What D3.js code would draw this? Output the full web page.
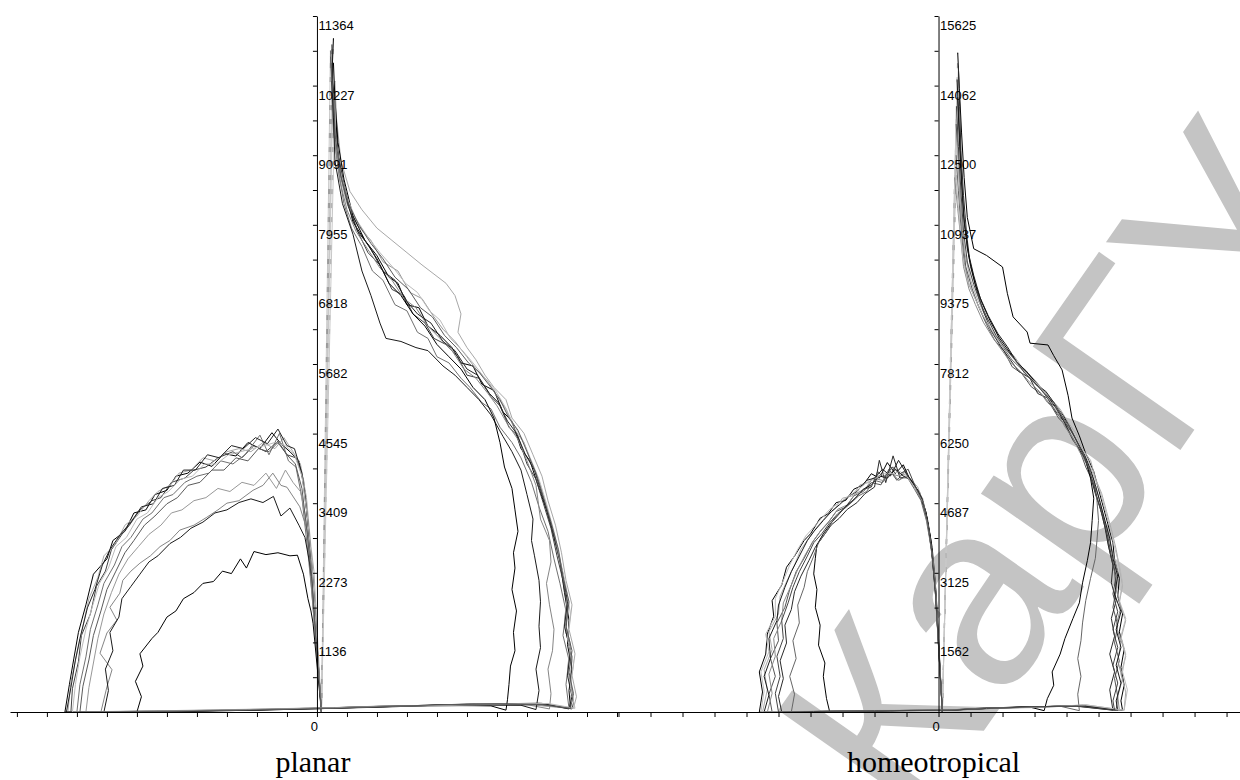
<!DOCTYPE html>
<html>
<head>
<meta charset="utf-8">
<script src="https://cdn.jsdelivr.net/npm/d3@7"></script>
<style>
  body { margin: 0; background: #fff; }
  svg { display: block; }
</style>
</head>
<body>
<div id="chart"></div>
<script>
// ---- data: x in tick units, y in counts ----
const planarMax = 11364;
const planarTickLabels = ["1136", "2273", "3409", "4545", "5682", "6818", "7955", "9091", "10227", "11364"];
const planarColors = ["#000000", "#404040", "#a8a8a8", "#707070", "#989898", "#858585", "#1a1a1a", "#000000", "#222222", "#bbbbbb", "#5a5a5a"];

// left lobe of each loop, from the baseline up and over to x = 0
const planarLeft = [
  [[-8.4,0],[-8.25,450],[-8.1,880],[-7.95,1300],[-7.7,1750],[-7.45,2250],[-7.0,2500],[-6.8,2800],[-6.4,2950],[-6.1,3250],[-5.7,3300],[-5.4,3550],[-5.0,3620],[-4.7,3850],[-4.3,3900],[-3.9,4080],[-3.5,4010],[-3.1,4220],[-2.7,4180],[-2.3,4400],[-1.9,4300],[-1.5,4560],[-1.2,4380],[-0.9,4250],[-0.6,4100],[-0.4,3600],[-0.25,2800],[-0.12,2000],[0.15,0]],
  [[-8.2,0],[-8.15,380],[-7.95,820],[-7.85,1250],[-7.55,1600],[-7.35,2050],[-7.05,2300],[-6.85,2650],[-6.5,2900],[-6.25,3050],[-5.9,3300],[-5.5,3450],[-5.2,3500],[-4.85,3750],[-4.4,3820],[-4.1,3950],[-3.7,4000],[-3.3,4150],[-2.8,4250],[-2.5,4150],[-2.1,4350],[-1.7,4250],[-1.3,4420],[-1.0,4200],[-0.7,4150],[-0.45,3800],[-0.28,3000],[-0.15,2250],[0.15,0]],
  [[-8.3,0],[-8.2,500],[-8.0,950],[-7.8,1400],[-7.6,1850],[-7.3,2200],[-7.1,2550],[-6.7,2750],[-6.4,3050],[-6.0,3200],[-5.6,3450],[-5.3,3600],[-4.9,3700],[-4.6,3900],[-4.2,3950],[-3.8,4150],[-3.4,4100],[-3.0,4250],[-2.6,4300],[-2.2,4250],[-1.8,4400],[-1.4,4300],[-1.1,4480],[-0.8,4250],[-0.55,4050],[-0.35,3500],[-0.2,2700],[-0.1,2300],[0.15,0]],
  [[-8.0,0],[-7.9,450],[-7.7,900],[-7.55,1350],[-7.3,1750],[-7.1,2100],[-6.75,2400],[-6.5,2700],[-6.2,2850],[-5.8,3150],[-5.5,3250],[-5.1,3500],[-4.8,3550],[-4.4,3750],[-4.0,3850],[-3.6,3900],[-3.2,4100],[-2.8,4050],[-2.4,4200],[-1.9,4520],[-1.6,4200],[-1.25,4550],[-0.95,4100],[-0.7,4000],[-0.5,3500],[-0.3,2600],[-0.18,2000],[0.15,0]],
  [[-7.7,0],[-7.6,400],[-7.45,800],[-7.3,1200],[-7.1,1600],[-6.85,1950],[-6.6,2250],[-6.3,2500],[-5.95,2700],[-5.6,2900],[-5.2,3050],[-4.85,3250],[-4.5,3300],[-4.1,3450],[-3.7,3500],[-3.3,3650],[-2.9,3600],[-2.5,3750],[-2.1,3700],[-1.7,3900],[-1.35,3650],[-1.05,3950],[-0.8,3750],[-0.55,3600],[-0.38,3200],[-0.22,2500],[-0.12,2050],[0.15,0]],
  [[-7.2,0],[-7.0,410],[-6.83,690],[-7.23,960],[-7.0,1290],[-6.67,1500],[-6.9,1710],[-6.57,1940],[-6.47,2150],[-6.2,2300],[-5.9,2430],[-5.55,2550],[-5.23,2700],[-4.9,2800],[-4.57,2970],[-4.1,3050],[-3.67,3180],[-3.3,3300],[-3.0,3410],[-2.6,3450],[-2.13,3620],[-1.8,3700],[-1.47,3900],[-1.2,3700],[-1.0,3670],[-0.57,3350],[-0.33,2970],[-0.23,2320],[0.15,0]],
  [[-7.1,0],[-6.95,350],[-7.05,700],[-6.8,1000],[-6.9,1300],[-6.6,1550],[-6.5,1850],[-6.2,2050],[-5.9,2250],[-5.6,2450],[-5.3,2550],[-4.9,2750],[-4.55,2850],[-4.2,3000],[-3.8,3100],[-3.4,3250],[-3.0,3300],[-2.6,3420],[-2.2,3480],[-1.8,3420],[-1.45,3520],[-1.2,3200],[-0.9,3330],[-0.6,3050],[-0.4,2850],[-0.25,2450],[-0.15,2100],[0.15,0]],
  [[-6.0,0],[-5.85,250],[-6.05,500],[-5.8,750],[-5.9,950],[-5.5,1200],[-5.3,1300],[-5.0,1550],[-4.7,1650],[-4.45,1850],[-4.1,1950],[-3.8,2100],[-3.45,2130],[-3.15,2300],[-2.85,2260],[-2.55,2500],[-2.35,2350],[-2.1,2620],[-1.7,2570],[-1.3,2600],[-0.9,2550],[-0.65,2560],[-0.45,2250],[-0.3,1850],[-0.2,1650],[-0.13,1450],[0.15,0]],
  [[-8.35,0],[-8.2,400],[-8.05,850],[-7.9,1200],[-7.65,1700],[-7.4,2000],[-7.15,2400],[-6.9,2650],[-6.55,2900],[-6.2,3100],[-5.85,3350],[-5.45,3400],[-5.15,3650],[-4.75,3700],[-4.45,3950],[-4.05,3950],[-3.65,4200],[-3.25,4150],[-2.85,4350],[-2.45,4300],[-2.05,4480],[-1.65,4380],[-1.3,4620],[-1.0,4350],[-0.75,4300],[-0.5,3900],[-0.3,3100],[-0.15,2300],[0.15,0]],
  [[-8.15,0],[-8.05,450],[-7.9,900],[-7.7,1350],[-7.5,1700],[-7.25,2100],[-6.95,2350],[-6.7,2700],[-6.35,2850],[-6.0,3150],[-5.65,3250],[-5.3,3500],[-4.95,3600],[-4.55,3800],[-4.15,3850],[-3.75,4050],[-3.35,4050],[-2.95,4200],[-2.55,4250],[-2.15,4300],[-1.75,4350],[-1.4,4400],[-1.05,4350],[-0.75,4200],[-0.5,3850],[-0.32,3200],[-0.18,2500],[0.15,0]],
  [[-7.9,0],[-7.8,420],[-7.6,850],[-7.45,1250],[-7.2,1650],[-7.0,2000],[-6.7,2300],[-6.4,2600],[-6.1,2800],[-5.75,3050],[-5.4,3200],[-5.0,3400],[-4.65,3500],[-4.3,3700],[-3.9,3750],[-3.5,3950],[-3.1,3950],[-2.7,4150],[-2.3,4100],[-1.95,4300],[-1.6,4250],[-1.3,4400],[-1.0,4200],[-0.72,4050],[-0.5,3650],[-0.32,2900],[-0.18,2200],[0.15,0]]
];

// right branch of each loop, from the peak down to the baseline
const planarRight = [
  [[0.55,11000],[0.5,10400],[0.62,9800],[0.7,9100],[0.95,8500],[1.2,8000],[1.6,7700],[2.0,7450],[2.4,7100],[2.7,7000],[3.0,6650],[3.4,6600],[3.7,6300],[4.1,6150],[4.5,5950],[4.8,5700],[5.2,5650],[5.5,5350],[5.9,5250],[6.2,4900],[6.5,4750],[6.8,4300],[7.1,4100],[7.4,3650],[7.65,3300],[7.9,2850],[8.1,2450],[8.25,1950],[8.4,1500],[8.35,1100],[8.5,700],[8.4,350],[8.45,60]],
  [[0.5,10500],[0.55,9900],[0.65,9300],[0.85,8700],[1.1,8200],[1.4,7800],[1.7,7500],[2.1,7300],[2.5,6900],[2.9,6800],[3.2,6500],[3.6,6350],[3.9,6100],[4.3,6000],[4.7,5800],[5.0,5500],[5.4,5450],[5.8,5150],[6.1,5000],[6.4,4650],[6.7,4500],[7.0,4050],[7.3,3800],[7.55,3400],[7.8,3000],[8.0,2550],[8.2,2150],[8.35,1700],[8.3,1300],[8.5,900],[8.45,500],[8.55,150],[8.5,50]],
  [[0.6,10300],[0.65,9700],[0.8,9000],[1.1,8500],[1.5,8200],[2.0,7900],[2.5,7700],[3.0,7500],[3.5,7300],[3.9,7150],[4.3,7000],[4.6,6800],[4.8,6500],[4.7,6200],[5.0,5950],[5.3,5750],[5.6,5500],[5.9,5300],[6.3,5100],[6.5,4800],[6.9,4550],[7.2,4200],[7.5,3850],[7.7,3450],[7.95,3050],[8.15,2600],[8.3,2150],[8.5,1750],[8.4,1350],[8.6,950],[8.5,600],[8.65,250],[8.55,60]],
  [[0.45,10800],[0.5,10100],[0.55,9500],[0.7,8900],[0.9,8300],[1.15,7900],[1.5,7600],[1.85,7200],[2.2,7050],[2.6,6650],[3.0,6550],[3.35,6200],[3.7,6100],[4.0,5800],[4.4,5700],[4.8,5450],[5.1,5300],[5.5,5050],[5.8,4950],[6.1,4650],[6.5,4400],[6.8,4150],[7.15,3750],[7.4,3350],[7.7,2950],[7.9,2500],[8.1,2100],[8.3,1650],[8.2,1250],[8.4,850],[8.3,450],[8.4,60]],
  [[0.55,10100],[0.6,9400],[0.75,8800],[1.0,8300],[1.35,7950],[1.8,7700],[2.2,7350],[2.7,7200],[3.1,6850],[3.5,6750],[3.9,6450],[4.2,6250],[4.6,6050],[5.0,5800],[5.3,5600],[5.7,5400],[6.0,5150],[6.3,4950],[6.6,4600],[6.9,4400],[7.2,4000],[7.45,3700],[7.7,3250],[7.95,2800],[8.15,2350],[8.35,1900],[8.25,1500],[8.45,1100],[8.35,700],[8.5,350],[8.4,60]],
  [[0.5,9900],[0.6,9300],[0.75,8700],[1.0,8200],[1.3,7850],[1.7,7550],[2.1,7250],[2.5,7050],[2.9,6750],[3.3,6600],[3.7,6300],[4.1,6100],[4.5,5900],[4.9,5600],[5.3,5450],[5.7,5200],[6.0,5000],[6.35,4700],[6.7,4450],[7.0,4100],[7.3,3700],[7.45,3150],[7.75,2800],[7.8,2450],[7.65,2100],[7.75,1750],[7.9,1350],[7.85,1000],[7.7,700],[7.8,300],[7.75,50]],
  [[0.5,10300],[0.55,9700],[0.6,9000],[0.85,8300],[1.2,7800],[1.5,7200],[1.8,6800],[2.1,6350],[2.3,6100],[2.8,6050],[3.3,5950],[3.7,5900],[4.2,5650],[4.6,5500],[5.0,5300],[5.4,5100],[5.8,4850],[6.2,4500],[6.5,4250],[6.8,3950],[7.0,3550],[7.2,3150],[7.15,2800],[7.25,2550],[7.4,2150],[7.45,1800],[7.4,1400],[7.45,1050],[7.3,700],[7.4,350],[7.3,40]],
  [[0.55,10600],[0.6,10000],[0.7,9300],[0.9,8700],[1.2,8100],[1.6,7700],[2.0,7400],[2.4,7000],[2.8,6800],[3.2,6500],[3.6,6300],[4.0,6000],[4.4,5800],[4.8,5600],[5.2,5300],[5.6,5100],[5.9,4800],[6.1,4400],[6.25,4000],[6.5,3650],[6.6,3300],[6.7,2950],[6.55,2600],[6.6,2350],[6.5,2000],[6.65,1650],[6.55,1300],[6.6,1000],[6.45,750],[6.4,450],[6.35,200],[6.3,30]],
  [[0.5,10900],[0.52,10200],[0.6,9500],[0.78,8800],[1.05,8250],[1.35,7850],[1.75,7600],[2.2,7200],[2.6,7050],[3.0,6700],[3.35,6500],[3.8,6350],[4.2,6050],[4.6,5900],[5.0,5600],[5.35,5500],[5.75,5200],[6.05,5050],[6.35,4750],[6.65,4550],[6.95,4200],[7.25,3950],[7.5,3550],[7.75,3150],[8.0,2700],[8.2,2250],[8.35,1800],[8.25,1400],[8.45,1000],[8.35,600],[8.5,250],[8.4,50]],
  [[0.6,10000],[0.62,9400],[0.75,8900],[1.0,8400],[1.3,8050],[1.7,7750],[2.1,7500],[2.55,7250],[2.95,7000],[3.35,6850],[3.75,6550],[4.1,6400],[4.45,6100],[4.85,5900],[5.2,5700],[5.6,5450],[5.95,5250],[6.25,5000],[6.55,4700],[6.85,4450],[7.15,4100],[7.4,3800],[7.65,3400],[7.9,2950],[8.1,2500],[8.3,2050],[8.45,1600],[8.35,1200],[8.55,800],[8.45,400],[8.6,60]],
  [[0.45,10700],[0.55,10000],[0.62,9350],[0.8,8750],[1.05,8300],[1.4,7950],[1.8,7650],[2.2,7400],[2.6,7100],[3.05,6900],[3.45,6600],[3.85,6450],[4.25,6150],[4.65,5950],[5.05,5700],[5.4,5550],[5.8,5300],[6.1,5100],[6.4,4800],[6.7,4600],[7.0,4250],[7.3,3900],[7.55,3500],[7.8,3100],[8.05,2650],[8.2,2200],[8.4,1800],[8.3,1400],[8.5,1000],[8.4,650],[8.55,300],[8.45,60]]
];

// return path along the baseline
const planarBase = [
  [[7.5,140],[5.0,120],[2.0,90],[0.5,70],[-2.0,40],[-5.0,15]],
  [[7.6,120],[5.2,130],[2.2,80],[0.6,60],[-2.5,30],[-5.5,10]],
  [[7.4,150],[5.0,110],[2.5,100],[0.8,75],[-2.2,45],[-5.2,20]],
  [[7.2,130],[4.8,125],[1.8,85],[0.4,65],[-2.0,35],[-5.0,10]],
  [[7.3,110],[5.0,115],[2.0,95],[0.5,70],[-2.4,40],[-5.1,15]],
  [[7.0,120],[4.5,100],[2.0,85],[0.5,60],[-2.0,30],[-5.0,5]],
  [[6.8,110],[4.6,120],[1.9,90],[0.4,65],[-2.2,35],[-5.0,10]],
  [[5.8,100],[4.0,110],[1.8,80],[0.5,60],[-2.0,30],[-4.5,10]],
  [[7.6,130],[5.1,125],[2.1,85],[0.5,65],[-2.1,35],[-5.2,12]],
  [[7.7,140],[5.3,115],[2.3,95],[0.6,70],[-2.3,40],[-5.3,15]],
  [[7.5,120],[5.0,130],[2.0,85],[0.5,60],[-2.0,35],[-5.0,10]]
];

const homeoMax = 15625;
const homeoTickLabels = ["1562", "3125", "4687", "6250", "7812", "9375", "10937", "12500", "14062", "15625"];
const homeoColors = ["#000000", "#555555", "#aaaaaa", "#2a2a2a", "#8a8a8a", "#000000", "#666666", "#1a1a1a", "#bbbbbb", "#444444"];

const homeoLeft = [
  [[-5.6,0],[-5.5,450],[-5.6,900],[-5.4,1300],[-5.35,1750],[-5.15,2150],[-5.2,2500],[-4.9,2850],[-4.75,3250],[-4.5,3500],[-4.2,3850],[-4.0,4000],[-3.7,4350],[-3.45,4450],[-3.2,4700],[-2.9,4750],[-2.65,5000],[-2.35,5100],[-2.1,5350],[-1.85,5250],[-1.6,5600],[-1.35,5350],[-1.1,5550],[-0.85,5150],[-0.6,4950],[-0.4,4500],[-0.25,3900],[-0.15,3100],[-0.08,2500],[0.12,0]],
  [[-5.2,0],[-5.3,400],[-5.1,800],[-5.25,1200],[-5.0,1600],[-5.05,2000],[-4.8,2350],[-4.65,2750],[-4.45,3150],[-4.2,3450],[-3.95,3800],[-3.7,4050],[-3.45,4250],[-3.2,4500],[-2.9,4600],[-2.65,4850],[-2.35,4950],[-2.1,5150],[-1.8,5100],[-1.55,5450],[-1.3,5200],[-1.05,5400],[-0.8,5100],[-0.55,4850],[-0.38,4400],[-0.22,3700],[-0.12,3000],[0.12,0]],
  [[-5.5,0],[-5.35,500],[-5.45,950],[-5.2,1400],[-5.3,1800],[-5.0,2200],[-4.95,2600],[-4.7,3000],[-4.5,3300],[-4.3,3650],[-4.0,3950],[-3.8,4150],[-3.5,4400],[-3.25,4550],[-3.0,4800],[-2.7,4850],[-2.45,5100],[-2.2,5150],[-1.95,5300],[-1.7,5300],[-1.4,5500],[-1.15,5250],[-0.9,5250],[-0.65,5050],[-0.45,4650],[-0.3,4100],[-0.18,3400],[-0.1,2800],[0.12,0]],
  [[-4.9,0],[-5.0,350],[-4.85,750],[-4.95,1150],[-4.75,1550],[-4.8,1950],[-4.6,2300],[-4.5,2700],[-4.3,3050],[-4.05,3400],[-3.85,3700],[-3.6,3950],[-3.35,4200],[-3.1,4350],[-2.85,4550],[-2.55,4700],[-2.3,4900],[-2.0,5050],[-1.85,5650],[-1.65,5150],[-1.42,5750],[-1.2,5250],[-0.95,5300],[-0.7,5000],[-0.5,4700],[-0.33,4200],[-0.2,3500],[-0.1,2700],[0.12,0]],
  [[-5.35,0],[-5.2,420],[-5.3,850],[-5.1,1250],[-5.15,1650],[-4.9,2050],[-4.85,2450],[-4.6,2850],[-4.4,3200],[-4.15,3550],[-3.9,3850],[-3.65,4100],[-3.4,4300],[-3.15,4550],[-2.85,4650],[-2.6,4900],[-2.3,5000],[-2.05,5250],[-1.75,5200],[-1.5,5350],[-1.25,5300],[-1.0,5350],[-0.75,5050],[-0.5,4800],[-0.35,4300],[-0.2,3600],[-0.1,2900],[0.12,0]],
  [[-3.4,0],[-3.5,300],[-3.6,800],[-3.55,1100],[-3.75,1500],[-3.7,1950],[-3.85,2350],[-3.8,2750],[-3.9,3100],[-3.85,3450],[-3.8,3750],[-3.6,4000],[-3.35,4250],[-3.1,4450],[-2.85,4650],[-2.6,4800],[-2.35,5000],[-2.1,5100],[-1.85,5300],[-1.6,5250],[-1.35,5450],[-1.1,5300],[-0.85,5200],[-0.6,4900],[-0.4,4500],[-0.25,3900],[-0.15,3200],[-0.07,2600],[0.12,0]],
  [[-4.6,0],[-4.5,400],[-4.65,800],[-4.45,1200],[-4.55,1600],[-4.35,2000],[-4.4,2400],[-4.2,2800],[-4.1,3150],[-3.9,3500],[-3.75,3800],[-3.5,4050],[-3.3,4300],[-3.05,4500],[-2.8,4650],[-2.5,4850],[-2.25,4950],[-2.0,5200],[-1.75,5150],[-1.5,5400],[-1.25,5200],[-1.0,5300],[-0.75,5000],[-0.55,4750],[-0.38,4300],[-0.22,3650],[-0.12,2950],[0.12,0]],
  [[-5.45,0],[-5.3,380],[-5.45,800],[-5.25,1200],[-5.3,1650],[-5.05,2050],[-5.0,2400],[-4.8,2800],[-4.6,3150],[-4.35,3500],[-4.1,3850],[-3.9,4050],[-3.6,4300],[-3.35,4500],[-3.1,4650],[-2.8,4850],[-2.55,4950],[-2.25,5200],[-2.0,5250],[-1.75,5450],[-1.5,5300],[-1.25,5650],[-1.0,5350],[-0.75,5100],[-0.52,4800],[-0.35,4350],[-0.2,3700],[-0.1,2900],[0.12,0]],
  [[-5.55,0],[-5.45,470],[-5.55,900],[-5.3,1350],[-5.4,1750],[-5.1,2150],[-5.1,2550],[-4.85,2950],[-4.65,3300],[-4.4,3650],[-4.15,3950],[-3.9,4150],[-3.65,4350],[-3.4,4550],[-3.1,4700],[-2.8,4850],[-2.5,5000],[-2.25,5150],[-1.95,5250],[-1.7,5350],[-1.45,5350],[-1.2,5400],[-0.95,5250],[-0.7,5000],[-0.48,4700],[-0.32,4150],[-0.18,3450],[-0.1,2850],[0.12,0]],
  [[-5.0,0],[-5.1,420],[-4.95,800],[-5.05,1250],[-4.85,1650],[-4.9,2050],[-4.7,2450],[-4.55,2800],[-4.35,3150],[-4.1,3500],[-3.9,3800],[-3.65,4000],[-3.4,4250],[-3.15,4450],[-2.9,4600],[-2.6,4800],[-2.35,5000],[-2.1,5050],[-1.9,5400],[-1.7,5250],[-1.45,5500],[-1.2,5350],[-0.95,5450],[-0.72,5050],[-0.5,4750],[-0.34,4250],[-0.2,3550],[-0.1,2750],[0.12,0]]
];

const homeoRight = [
  [[0.6,14800],[0.65,14000],[0.72,13000],[0.8,12000],[0.9,11100],[1.1,10400],[1.5,10250],[2.0,9990],[2.15,9400],[2.33,8870],[2.77,8530],[2.86,8280],[3.42,8240],[3.6,8000],[3.86,7680],[4.05,7100],[4.17,6600],[4.4,6200],[4.6,5800],[4.85,5400],[5.0,5000],[5.15,4600],[5.3,4200],[5.45,3800],[5.5,3400],[5.65,3000],[5.6,2600],[5.75,2200],[5.65,1800],[5.8,1400],[5.7,1000],[5.8,600],[5.7,250],[5.75,40]],
  [[0.55,13200],[0.62,12400],[0.68,11500],[0.75,10700],[0.85,10000],[1.05,9500],[1.25,9100],[1.5,8700],[1.75,8350],[2.05,8100],[2.3,7750],[2.6,7600],[2.9,7300],[3.2,7150],[3.5,6900],[3.75,6600],[3.95,6450],[4.2,6100],[4.4,5900],[4.6,5500],[4.8,5200],[4.95,4800],[5.1,4450],[5.25,4000],[5.35,3600],[5.5,3150],[5.55,2750],[5.45,2350],[5.6,1950],[5.5,1550],[5.65,1150],[5.5,750],[5.6,350],[5.55,40]],
  [[0.58,12800],[0.65,11900],[0.72,11000],[0.82,10300],[1.0,9700],[1.2,9300],[1.45,8900],[1.75,8600],[2.0,8200],[2.35,8000],[2.65,7700],[2.95,7500],[3.25,7250],[3.55,7000],[3.8,6800],[4.05,6500],[4.3,6250],[4.5,5900],[4.75,5650],[4.9,5250],[5.1,4900],[5.25,4500],[5.4,4100],[5.55,3650],[5.65,3250],[5.75,2850],[5.65,2450],[5.85,2050],[5.7,1650],[5.85,1250],[5.7,850],[5.85,450],[5.8,40]],
  [[0.62,14500],[0.66,13600],[0.7,12600],[0.78,11600],[0.88,10700],[1.0,10000],[1.2,9450],[1.4,9000],[1.65,8550],[1.95,8200],[2.25,7900],[2.5,7650],[2.85,7500],[3.1,7150],[3.4,7050],[3.7,6700],[3.9,6550],[4.15,6200],[4.35,5950],[4.6,5650],[4.75,5300],[4.9,4900],[5.05,4600],[5.2,4150],[5.3,3750],[5.45,3300],[5.4,2900],[5.55,2500],[5.4,2100],[5.5,1700],[5.35,1300],[5.5,900],[5.35,500],[5.45,40]],
  [[0.5,12000],[0.6,11300],[0.7,10600],[0.78,10000],[0.95,9500],[1.15,9150],[1.4,8750],[1.7,8400],[1.95,8150],[2.25,7850],[2.55,7650],[2.85,7400],[3.15,7200],[3.4,6950],[3.7,6750],[3.95,6400],[4.2,6150],[4.4,5850],[4.6,5600],[4.8,5200],[5.0,4850],[5.15,4400],[5.3,4000],[5.45,3550],[5.6,3150],[5.55,2750],[5.7,2350],[5.55,1950],[5.7,1550],[5.6,1150],[5.75,750],[5.6,350],[5.65,40]],
  [[0.6,13800],[0.65,12900],[0.72,11900],[0.8,11000],[0.95,10200],[1.15,9600],[1.35,9200],[1.6,8800],[1.9,8400],[2.2,8100],[2.5,7800],[2.8,7600],[3.1,7350],[3.4,7100],[3.65,6850],[3.9,6550],[4.15,6300],[4.4,6000],[4.6,5650],[4.75,5250],[4.85,4800],[4.8,4300],[4.75,3800],[4.65,3400],[4.5,2900],[4.4,2450],[4.2,2100],[3.95,1650],[3.8,1300],[3.55,900],[3.6,600],[3.4,300],[3.3,30]],
  [[0.55,12500],[0.62,11700],[0.7,10900],[0.8,10100],[0.95,9600],[1.2,9200],[1.45,8800],[1.75,8450],[2.0,8200],[2.3,7900],[2.6,7700],[2.9,7450],[3.2,7250],[3.45,7000],[3.75,6750],[4.0,6450],[4.25,6200],[4.45,5900],[4.65,5600],[4.85,5200],[4.95,4750],[5.0,4300],[4.95,3850],[4.9,3450],[4.75,3000],[4.6,2500],[4.5,2000],[4.45,1600],[4.35,1200],[4.45,800],[4.35,400],[4.4,30]],
  [[0.58,14200],[0.64,13200],[0.7,12200],[0.78,11200],[0.9,10400],[1.1,9800],[1.3,9300],[1.55,8900],[1.85,8500],[2.15,8200],[2.45,7850],[2.75,7650],[3.05,7350],[3.35,7200],[3.65,6900],[3.9,6650],[4.1,6400],[4.35,6050],[4.55,5800],[4.75,5450],[4.9,5100],[5.05,4700],[5.2,4300],[5.35,3900],[5.45,3450],[5.6,3050],[5.5,2650],[5.7,2250],[5.55,1850],[5.7,1450],[5.55,1050],[5.7,650],[5.55,250],[5.6,40]],
  [[0.52,12200],[0.6,11500],[0.68,10800],[0.76,10200],[0.9,9700],[1.1,9350],[1.35,8950],[1.65,8600],[1.9,8300],[2.2,8050],[2.5,7800],[2.8,7550],[3.1,7350],[3.4,7100],[3.7,6850],[3.95,6550],[4.2,6300],[4.45,5950],[4.65,5700],[4.85,5300],[5.05,4950],[5.2,4550],[5.35,4150],[5.5,3700],[5.65,3300],[5.75,2900],[5.65,2500],[5.85,2100],[5.7,1700],[5.85,1300],[5.75,900],[5.9,500],[5.8,40]],
  [[0.56,13600],[0.62,12700],[0.7,11700],[0.78,10800],[0.9,10100],[1.1,9600],[1.3,9200],[1.55,8800],[1.8,8450],[2.1,8150],[2.4,7900],[2.7,7600],[3.0,7400],[3.3,7150],[3.6,6950],[3.85,6650],[4.1,6400],[4.3,6100],[4.5,5800],[4.7,5450],[4.85,5100],[5.0,4700],[5.15,4350],[5.3,3900],[5.4,3500],[5.55,3050],[5.45,2650],[5.6,2250],[5.45,1850],[5.6,1450],[5.45,1050],[5.6,650],[5.45,250],[5.5,40]]
];

const homeoBase = [
  [[4.5,150],[3.0,110],[1.5,80],[0.3,40],[-2.0,30],[-4.0,10]],
  [[4.4,140],[3.1,120],[1.6,90],[0.4,50],[-2.2,25],[-4.2,10]],
  [[4.6,160],[3.2,100],[1.4,85],[0.3,45],[-1.8,35],[-4.1,15]],
  [[4.3,130],[2.9,120],[1.5,75],[0.4,40],[-2.1,30],[-3.9,10]],
  [[4.5,145],[3.0,105],[1.6,85],[0.3,45],[-2.0,25],[-4.0,10]],
  [[2.8,120],[2.0,100],[1.2,80],[0.3,40],[-1.5,25],[-2.8,10]],
  [[3.8,130],[2.6,110],[1.4,80],[0.3,40],[-1.8,30],[-3.6,10]],
  [[4.4,145],[3.0,115],[1.5,80],[0.3,40],[-2.0,30],[-4.1,10]],
  [[4.6,160],[3.1,110],[1.6,85],[0.3,45],[-1.9,30],[-4.2,12]],
  [[4.3,135],[2.9,115],[1.5,80],[0.3,40],[-2.0,28],[-3.9,10]]
];

const titles = ["planar", "homeotropical"];

// ---- drawing ----
const width = 1240, height = 780;
const baseY = 712, topY = 16;

const svg = d3.select("#chart")
  .append("svg")
  .attr("width", width)
  .attr("height", height);

// faint watermark behind everything
svg.append("text")
  .attr("transform", "translate(1345,215) rotate(-55)")
  .attr("text-anchor", "end")
  .attr("font-family", "'Liberation Sans', Arial, sans-serif")
  .attr("font-size", 262)
  .attr("fill", "#c4c4c4")
  .text("Репозиторий КарГУ");

function drawPanel(opt) {
  const x = d3.scaleLinear().domain(opt.xDomain).range(opt.xRange);
  const y = d3.scaleLinear().domain([0, opt.max]).range([baseY, topY]);
  const g = svg.append("g");

  const line = d3.line()
    .x(d => x(d[0]))
    .y(d => y(d[1]));

  // switching jumps near x = 0, faint
  g.selectAll("path.jump")
    .data(opt.left.map((L, i) => [L[L.length - 1], opt.right[i][0]]))
    .enter().append("path")
    .attr("class", "jump")
    .attr("d", line)
    .attr("fill", "none")
    .attr("stroke", (d, i) => i % 2 ? "#c8c8c8" : "#9a9a9a")
    .attr("stroke-dasharray", (d, i) => i % 2 ? null : "5,9")
    .attr("stroke-width", 1);

  // loops: right branch, baseline back, left lobe
  g.selectAll("path.loop")
    .data(opt.left.map((L, i) => opt.right[i].concat(opt.base[i], L)))
    .enter().append("path")
    .attr("class", "loop")
    .attr("d", line)
    .attr("fill", "none")
    .attr("stroke", (d, i) => opt.colors[i])
    .attr("stroke-width", 1)
    .attr("stroke-linejoin", "miter");

  // x axis
  const xTicks = d3.range(-10, 11).filter(v => v >= opt.xDomain[0] && v <= opt.xDomain[1]);
  const xAxis = g.append("g")
    .attr("transform", `translate(0,${baseY})`)
    .call(d3.axisBottom(x)
      .tickValues(xTicks)
      .tickSize(5)
      .tickSizeOuter(0)
      .tickPadding(5)
      .tickFormat(d => d === 0 ? "0" : ""));
  xAxis.selectAll("text")
    .attr("dx", -3)
    .attr("font-family", "'Liberation Sans', Arial, sans-serif")
    .attr("font-size", 13);

  // y axis on x = 0, ticks every half label step
  const yTicks = d3.range(1, 21).map(k => k * opt.max / 20);
  g.append("g")
    .attr("transform", `translate(${x(0)},0)`)
    .call(d3.axisLeft(y)
      .tickValues(yTicks)
      .tickSize(4)
      .tickSizeOuter(0)
      .tickFormat(""));

  // tick labels sit just right of the axis, under their tick
  g.selectAll("text.ylab")
    .data(opt.labels)
    .enter().append("text")
    .attr("class", "ylab")
    .attr("x", x(0) + 1.5)
    .attr("y", (d, i) => y((i + 1) * opt.max / 10) + 14)
    .attr("font-family", "'Liberation Sans', Arial, sans-serif")
    .attr("font-size", 13)
    .attr("fill", "#000")
    .text(d => d);

  g.append("text")
    .attr("x", x(0) + opt.titleShift)
    .attr("y", 772)
    .attr("text-anchor", "middle")
    .attr("font-family", "'Liberation Serif', 'Times New Roman', serif")
    .attr("font-size", 30)
    .attr("fill", "#000")
    .text(opt.title);
}

drawPanel({
  xDomain: [-10.23, 10.1], xRange: [10, 620],
  max: planarMax, labels: planarTickLabels,
  left: planarLeft, right: planarRight, base: planarBase, colors: planarColors,
  title: titles[0], titleShift: -4
});

drawPanel({
  xDomain: [-10, 9.42], xRange: [618.5, 1240],
  max: homeoMax, labels: homeoTickLabels,
  left: homeoLeft, right: homeoRight, base: homeoBase, colors: homeoColors,
  title: titles[1], titleShift: -5
});
</script>
</body>
</html>
